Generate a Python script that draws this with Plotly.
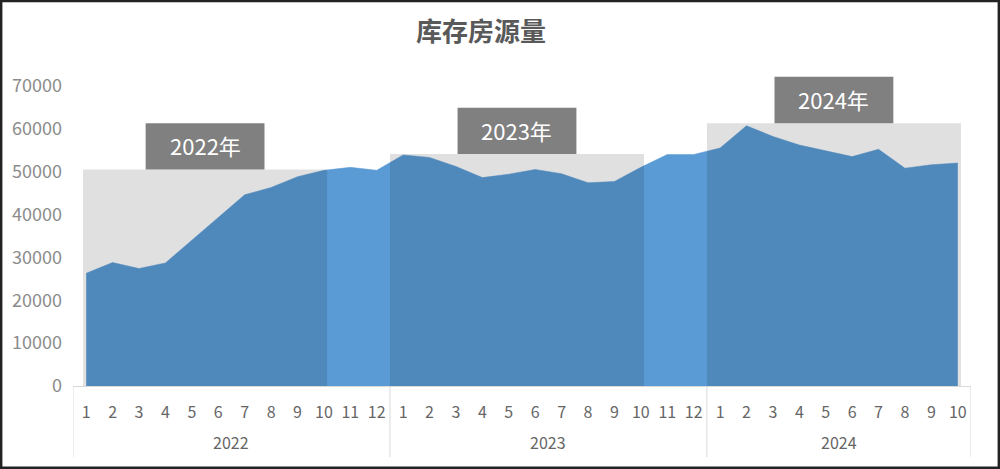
import plotly.graph_objects as go

# datos
years = ["2022", "2023", "2024"]
months_2022 = list(range(1, 13))
months_2023 = list(range(1, 13))
months_2024 = list(range(1, 11))
stock_2022 = [26300, 28800, 27400, 28700, 34000, 39200, 44600, 46300, 48800, 50300, 51000, 50300]
stock_2023 = [53900, 53300, 51200, 48600, 49400, 50500, 49500, 47400, 47700, 51000, 54000, 54000]
stock_2024 = [55500, 60700, 58200, 56200, 54900, 53500, 55200, 50800, 51600, 52000]
# cajas grises por año (hasta el mes 10) y su altura
box_top = [50500, 54100, 61300]
box_months = [10, 10, 10]
y_ticks = [0, 10000, 20000, 30000, 40000, 50000, 60000, 70000]

groups = [months_2022, months_2023, months_2024]
values = stock_2022 + stock_2023 + stock_2024
labels = [str(m) for g in groups for m in g]
xs = list(range(len(values)))

W, H = 1000, 469
ml, mr, mt, mb = 73, 29, 73, 83
pw, ph = W - ml - mr, H - mt - mb

fig = go.Figure()
fig.add_trace(go.Scatter(x=xs, y=values, mode="lines", fill="tozeroy",
                         fillcolor="#5b9bd5", line=dict(color="#5b9bd5", width=0.5),
                         hoverinfo="x+y", showlegend=False))

shapes = []
annotations = []
start = 0
for i, g in enumerate(groups):
    end = start + len(g) - 1
    # caja gris semitransparente
    x0 = start - 0.12 if i == 0 else start - 0.5
    x1 = start + box_months[i] - 1 + 0.12
    shapes.append(dict(type="rect", xref="x", yref="y", x0=x0, x1=x1, y0=0, y1=box_top[i],
                       fillcolor="rgba(0,0,0,0.12)", line=dict(width=0), layer="above"))
    # etiqueta del año
    cx = (x0 + x1) / 2
    shapes.append(dict(type="rect", xref="x", yref="y", x0=cx - 2.25, x1=cx + 2.25,
                       y0=box_top[i], y1=box_top[i] + 10800,
                       fillcolor="#808080", line=dict(width=0), layer="above"))
    annotations.append(dict(x=cx, y=box_top[i] + 5600, xref="x", yref="y", text=years[i] + "年",
                            showarrow=False, font=dict(size=22, color="white", family="Noto Sans CJK SC")))
    # año en el eje x
    annotations.append(dict(x=(start + end) / 2, y=-(442 - H + mb) / ph, xref="x", yref="paper",
                            text=years[i], showarrow=False, yanchor="middle",
                            font=dict(size=16, color="#666666", family="Noto Sans CJK SC")))
    # divisores
    shapes.append(dict(type="line", xref="x", yref="paper", x0=start - 0.5, x1=start - 0.5,
                       y0=0, y1=-(457 - H + mb) / ph, line=dict(color="#d9d9d9", width=1)))
    start = end + 1
shapes.append(dict(type="line", xref="x", yref="paper", x0=start - 0.5, x1=start - 0.5,
                   y0=0, y1=-(457 - H + mb) / ph, line=dict(color="#d9d9d9", width=1)))

# borde negro exterior
shapes.append(dict(type="rect", xref="paper", yref="paper",
                   x0=-ml / pw + 0.001, x1=(W - ml) / pw - 0.001,
                   y0=-mb / ph + 0.003, y1=(H - mb) / ph - 0.002,
                   line=dict(color="#222222", width=3), fillcolor="rgba(0,0,0,0)"))

fig.update_layout(
    width=W, height=H,
    margin=dict(l=ml, r=mr, t=mt, b=mb),
    paper_bgcolor="white", plot_bgcolor="white",
    title=dict(text="<b>库存房源量</b>", x=0.481, xanchor="center", y=1 - 32 / H, yanchor="middle",
               font=dict(size=26, color="#595959", family="Noto Sans CJK SC")),
    font=dict(family="Noto Sans CJK SC"),
    shapes=shapes, annotations=annotations,
)
fig.update_xaxes(range=[-0.5, len(values) - 0.5], tickvals=xs, ticktext=labels,
                 showgrid=False, zeroline=False, showline=True, linecolor="#d9d9d9",
                 ticks="", ticklabelstandoff=12,
                 tickfont=dict(size=16, color="#666666"))
fig.update_yaxes(range=[0, 73000], tickvals=y_ticks, ticktext=[str(v) for v in y_ticks],
                 showgrid=False, zeroline=False,
                 showline=False, ticks="", ticklabelstandoff=10,
                 tickfont=dict(size=18, color="#8c8c8c"))

# quitar el margen del body para que la figura ocupe toda la ventana
fig.write_html("out.html", config={"displayModeBar": False},
               post_script="document.body.style.margin='0';")
